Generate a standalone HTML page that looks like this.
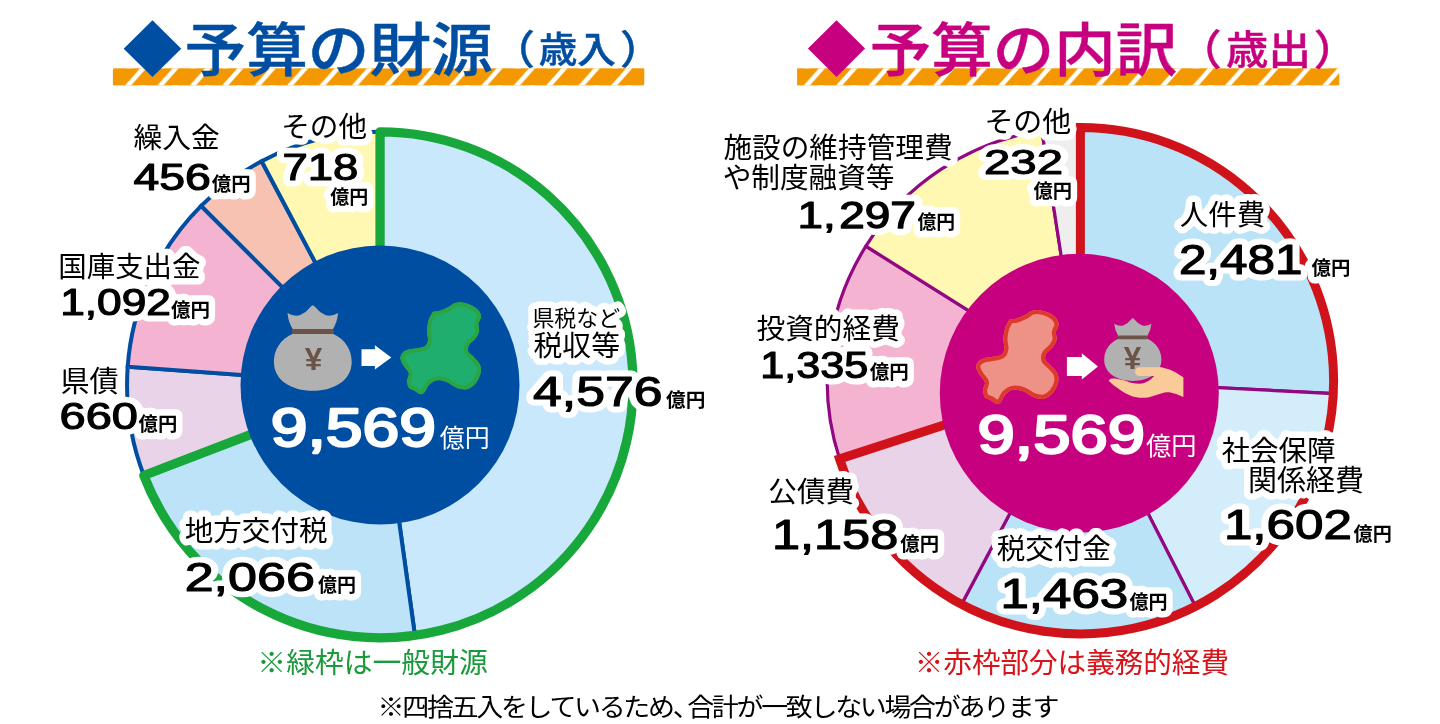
<!DOCTYPE html>
<html lang="ja"><head><meta charset="utf-8"><title>予算の財源・予算の内訳</title>
<style>
html,body{margin:0;padding:0;background:#fff}
body{width:1440px;height:724px;overflow:hidden}
svg{display:block}
text{font-family:"Liberation Sans","Noto Sans CJK JP",sans-serif}
text.n{font-family:"Liberation Sans",sans-serif;stroke:var(--ns);stroke-width:var(--nw);vector-effect:non-scaling-stroke;stroke-linejoin:round}
.halo{fill:#fff;stroke:#fff;stroke-width:13;stroke-linejoin:round;stroke-linecap:round;--ns:#fff;--nw:14.3}
.ink{fill:#000;--ns:#000;--nw:1.3}
.cw{fill:#fff;--ns:#fff;--nw:1.3}
.yen{--ns:none;--nw:0}
</style></head><body>
<svg width="1440" height="724" viewBox="0 0 1440 724">
<defs>
<pattern id="stripeL" patternUnits="userSpaceOnUse" width="32.4" height="17.1" patternTransform="translate(125,68.3)">
<rect width="32.4" height="17.1" fill="#f39800"/><path d="M0,17.1 L6.1,17.1 L21.3,0 L15.2,0Z" fill="#fff"/>
</pattern>
<pattern id="stripeR" patternUnits="userSpaceOnUse" width="32.4" height="17.1" patternTransform="translate(803.75,68.3)">
<rect width="32.4" height="17.1" fill="#f39800"/><path d="M0,17.1 L6.1,17.1 L21.3,0 L15.2,0Z" fill="#fff"/>
</pattern>
</defs>
<rect width="1440" height="724" fill="#fff"/>

<rect x="112.9" y="68.3" width="531.4" height="17.1" fill="url(#stripeL)"/>
<rect x="797.1" y="68.3" width="542.2" height="17.1" fill="url(#stripeR)"/>
<text transform="translate(122.92,71.10) scale(1.016,1)" font-size="58.05" font-weight="400" fill="#004ea2">◆</text>
<text transform="scale(1.07,1)" font-weight="500" fill="#004ea2" stroke="#004ea2" stroke-width="0.45" style="vector-effect:non-scaling-stroke"><tspan x="172.56" y="70.79" font-size="57.60">予算の財源</tspan><tspan x="460.07" y="64.17" font-size="39.93">（</tspan><tspan x="503.43" y="62.68" font-size="36.11">歳入</tspan><tspan x="579.36" y="64.04" font-size="39.59">）</tspan></text>
<text transform="translate(807.32,70.98) scale(1.005,1)" font-size="58.26" font-weight="400" fill="#c6007e">◆</text>
<text transform="scale(1.07,1)" font-weight="500" fill="#c6007e" stroke="#c6007e" stroke-width="0.45" style="vector-effect:non-scaling-stroke"><tspan x="812.85" y="70.65" font-size="57.49">予算の内訳</tspan><tspan x="1100.31" y="64.77" font-size="41.63">（</tspan><tspan x="1145.84" y="63.87" font-size="39.66">歳出</tspan><tspan x="1227.70" y="64.64" font-size="41.29">）</tspan></text>
<g stroke="#004ea2" stroke-width="4.0" stroke-linejoin="miter">
<path d="M380.05,384.80L380.05,131.80A253,253 0 0 1 414.95,635.38Z" fill="#c9e8fb"/>
<path d="M380.05,384.80L414.95,635.38A253,253 0 0 1 143.85,475.47Z" fill="#bce3f8"/>
<path d="M380.05,384.80L143.85,475.47A253,253 0 0 1 127.70,366.71Z" fill="#e8d3e8"/>
<path d="M380.05,384.80L127.70,366.71A253,253 0 0 1 201.15,205.90Z" fill="#f4b4d1"/>
<path d="M380.05,384.80L201.15,205.90A253,253 0 0 1 261.66,161.21Z" fill="#f8c2b3"/>
<path d="M380.05,384.80L261.66,161.21A253,253 0 0 1 380.05,131.80Z" fill="#fff8b3"/>
</g>
<path d="M380.05,384.80L380.05,131.80A253,253 0 1 1 143.85,475.47L380.05,384.80" fill="none" stroke="#17a73b" stroke-width="9.3" stroke-linejoin="round"/>
<circle cx="380" cy="385" r="139.5" fill="#004ea2"/>
<g stroke="#920883" stroke-width="3.2" stroke-linejoin="miter">
<path d="M1080.40,380.75L1080.40,127.55A253.2,253.2 0 0 1 1333.28,393.56Z" fill="#bbe3f8"/>
<path d="M1080.40,380.75L1333.28,393.56A253.2,253.2 0 0 1 1195.35,606.35Z" fill="#d4edfa"/>
<path d="M1080.40,380.75L1195.35,606.35A253.2,253.2 0 0 1 961.53,604.31Z" fill="#bbe3f8"/>
<path d="M1080.40,380.75L961.53,604.31A253.2,253.2 0 0 1 839.59,458.99Z" fill="#e8d3e8"/>
<path d="M1080.40,380.75L839.59,458.99A253.2,253.2 0 0 1 865.91,246.20Z" fill="#f4b4d1"/>
<path d="M1080.40,380.75L865.91,246.20A253.2,253.2 0 0 1 1041.88,130.50Z" fill="#fff8b3"/>
<path d="M1080.40,380.75L1041.88,130.50A253.2,253.2 0 0 1 1080.40,127.55Z" fill="#eeeeee"/>
</g>
<path d="M1080.40,380.75L1080.40,127.55A253.2,253.2 0 1 1 839.59,458.99L1080.40,380.75" fill="none" stroke="#d0121b" stroke-width="9.0" stroke-linejoin="miter"/>
<circle cx="1079.3" cy="393.3" r="139.5" fill="#c6007e"/>
<defs><path id="gifu" d="M43.48,16.67C44.93,16.01 47.58,16.38 50.00,15.65C52.42,14.93 55.43,13.60 57.97,12.32C60.51,11.04 62.80,8.77 65.22,7.97C67.63,7.17 69.81,7.17 72.46,7.54C75.12,7.90 78.50,8.86 81.16,10.14C83.82,11.43 86.76,13.29 88.41,15.22C90.05,17.15 91.01,19.44 91.01,21.74C91.01,24.03 88.72,26.57 88.41,28.99C88.09,31.40 89.61,33.82 89.13,36.23C88.65,38.65 87.20,41.18 85.51,43.48C83.82,45.77 80.19,47.83 78.99,50.00C77.78,52.17 77.42,54.47 78.26,56.52C79.11,58.57 82.13,60.14 84.06,62.32C85.99,64.49 88.77,66.91 89.86,69.57C90.94,72.22 91.30,75.12 90.58,78.26C89.86,81.40 87.80,85.75 85.51,88.41C83.21,91.06 79.95,93.48 76.81,94.20C73.67,94.93 70.05,93.96 66.67,92.75C63.29,91.55 59.90,88.16 56.52,86.96C53.14,85.75 49.28,85.02 46.38,85.51C43.48,85.99 41.06,87.92 39.13,89.86C37.20,91.79 36.23,95.53 34.78,97.10C33.33,98.67 32.13,99.52 30.43,99.28C28.74,99.03 26.57,96.74 24.64,95.65C22.71,94.57 20.10,94.44 18.84,92.75C17.58,91.06 17.10,87.92 17.10,85.51C17.10,83.09 19.40,80.68 18.84,78.26C18.29,75.85 15.17,73.43 13.77,71.01C12.37,68.60 10.68,65.94 10.43,63.77C10.19,61.59 10.92,59.54 12.32,57.97C13.72,56.40 16.06,55.19 18.84,54.35C21.62,53.50 26.21,53.50 28.99,52.90C31.76,52.29 34.01,52.05 35.51,50.72C37.00,49.40 37.73,47.34 37.97,44.93C38.21,42.51 36.88,39.37 36.96,36.23C37.03,33.09 37.68,28.86 38.41,26.09C39.13,23.31 40.46,21.14 41.30,19.57C42.15,18.00 42.03,17.32 43.48,16.67Z"/><clipPath id="gifuclip"><use href="#gifu"/></clipPath>
<g id="bag"><path d="M-25.3,7.7 Q-19,11.5 -13,9.9 Q-6.5,7 -2.3,1.6 Q0,-1.2 2.3,1.6 Q6.5,7 13,9.9 Q19,11.5 25.3,7.7 Q24.5,17 19.6,24.6 L-19.6,24.6 Q-24.5,17 -25.3,7.7ZM-19.6,28 C-33,34 -38.9,45 -38.9,56.5 C-38.9,75 -21,85.3 0,85.3 C21,85.3 38.9,75 38.9,56.5 C38.9,45 33,34 19.6,28Z" fill="#b2b1b1"/><rect x="-21" y="23.7" width="42" height="5" rx="2.5" fill="#6b5346"/></g></defs>
<use href="#bag" transform="translate(312.8,305.4)"/>
<text class="n yen" x="313.4" y="370.2" font-size="31.5" font-weight="700" fill="#6b5346" text-anchor="middle">¥</text>
<path d="M361.5,349.2 H374.9 V345.2 L391.3,357.4 L374.9,369.6 V365.9 H361.5Z" fill="#fff"/>
<g transform="translate(390,295)"><use href="#gifu" fill="#1fae6d"/><use href="#gifu" fill="none" stroke="#2aa544" stroke-width="8" clip-path="url(#gifuclip)"/></g>
<g transform="translate(965.65,302.50) scale(1.021)"><use href="#gifu" fill="#ee9288"/><use href="#gifu" fill="none" stroke="#dd3a2c" stroke-width="8" clip-path="url(#gifuclip)"/></g>
<path d="M1066.9,357.1 H1081.8 V353.3 L1098,366.4 L1081.8,379.5 V375.9 H1066.9Z" fill="#fff"/>
<use href="#bag" transform="translate(1132.8,318.2) scale(0.735)"/>
<text class="n yen" x="1132.6" y="369.4" font-size="31.5" font-weight="700" fill="#6b5346" text-anchor="middle">¥</text>
<path d="M1108.54,380.72C1109.16,380.35 1109.92,378.65 1112.27,378.51C1114.61,378.37 1119.29,379.15 1122.62,379.89C1125.96,380.63 1129.19,382.31 1132.29,382.93C1135.40,383.55 1138.39,384.08 1141.27,383.62C1144.15,383.16 1147.42,381.43 1149.56,380.17C1151.70,378.90 1153.36,376.71 1154.12,376.02L1139.48,376.02A4.35,4.35 0 0 1 1139.48,367.32L1161.30,367.32C1163.14,367.90 1168.66,369.09 1172.35,370.77C1176.03,372.45 1181.56,376.30 1183.40,377.40L1183.40,397.02C1182.02,396.46 1177.87,394.48 1175.11,393.70C1172.35,392.92 1169.82,392.14 1166.82,392.32C1163.83,392.50 1160.38,393.93 1157.15,394.81C1153.93,395.68 1150.94,397.15 1147.49,397.57C1144.03,397.98 1140.12,398.03 1136.44,397.29C1132.75,396.56 1128.84,394.90 1125.39,393.15C1121.93,391.40 1118.53,388.87 1115.72,386.80C1112.91,384.72 1109.73,381.73 1108.54,380.72Z" fill="#f9cb98"/>
<g class="cw">
<text class="n" style="--nw:2.6" transform="translate(270.73,445.92) scale(1.250,1)" font-size="52.82" font-weight="400">9,569</text>
<text x="439.80" y="447.17" font-size="24.96" font-weight="400">億円</text>
<text class="n" style="--nw:2.6" transform="translate(977.38,452.92) scale(1.255,1)" font-size="53.38" font-weight="400">9,569</text>
<text x="1146.10" y="455.12" font-size="25.22" font-weight="400">億円</text>
</g>
<use href="#labels" class="halo"/>
<g class="ink"><g id="labels"><text x="133.44" y="147.71" font-size="28.79" font-weight="400">繰入金</text>
<text class="n" transform="translate(133.42,189.64) scale(1.271,1)" font-size="36.48" font-weight="400">456</text>
<text x="211.81" y="190.61" font-size="19.37" font-weight="700">億円</text>
<text x="281.24" y="137.43" font-size="28.62" font-weight="400">その他</text>
<text class="n" transform="translate(282.48,180.43) scale(1.241,1)" font-size="36.62" font-weight="400">718</text>
<text x="330.31" y="204.13" font-size="19.01" font-weight="700">億円</text>
<text x="58.28" y="276.52" font-size="28.46" font-weight="400">国庫支出金</text>
<text class="n" transform="translate(60.13,314.64) scale(1.227,1)" font-size="36.06" font-weight="400">1,092</text>
<text x="171.11" y="316.75" font-size="19.48" font-weight="700">億円</text>
<text x="60.44" y="392.12" font-size="29.11" font-weight="400">県債</text>
<text class="n" transform="translate(59.61,428.64) scale(1.301,1)" font-size="36.06" font-weight="400">660</text>
<text x="138.61" y="430.74" font-size="19.32" font-weight="700">億円</text>
<text x="184.70" y="541.11" font-size="28.58" font-weight="400">地方交付税</text>
<text class="n" transform="translate(184.65,590.59) scale(1.283,1)" font-size="40.56" font-weight="400">2,066</text>
<text x="318.11" y="591.68" font-size="19.01" font-weight="700">億円</text>
<text x="532.40" y="325.75" font-size="21.96" font-weight="400">県税など</text>
<text x="533.54" y="355.77" font-size="28.82" font-weight="400">税収等</text>
<text class="n" transform="translate(533.12,406.17) scale(1.211,1)" font-size="42.68" font-weight="400">4,576</text>
<text x="666.10" y="406.91" font-size="19.64" font-weight="700">億円</text>
<text x="984.41" y="132.10" font-size="28.94" font-weight="400">その他</text>
<text class="n" transform="translate(983.98,173.75) scale(1.334,1)" font-size="35.49" font-weight="400">232</text>
<text x="1033.51" y="197.57" font-size="19.27" font-weight="700">億円</text>
<text x="723.40" y="158.39" font-size="28.66" font-weight="400">施設の維持管理費</text>
<text x="722.68" y="187.74" font-size="28.65" font-weight="400">や制度融資等</text>
<text class="n" transform="translate(797.51,227.84) scale(1.257,1)" font-size="36.48" font-weight="400">1,<tspan dx="2.78">297</tspan></text>
<text x="917.51" y="229.10" font-size="18.80" font-weight="700">億円</text>
<text x="756.54" y="338.69" font-size="28.67" font-weight="400">投資的経費</text>
<text class="n" transform="translate(760.31,378.03) scale(1.169,1)" font-size="36.90" font-weight="400">1,335</text>
<text x="869.70" y="379.27" font-size="19.53" font-weight="700">億円</text>
<text x="768.37" y="501.53" font-size="28.60" font-weight="400">公債費</text>
<text class="n" transform="translate(771.97,549.17) scale(1.186,1)" font-size="42.54" font-weight="400">1,158</text>
<text x="900.31" y="550.91" font-size="19.38" font-weight="700">億円</text>
<text x="996.64" y="559.35" font-size="28.56" font-weight="400">税交付金</text>
<text class="n" transform="translate(1000.42,608.37) scale(1.201,1)" font-size="42.54" font-weight="400">1,463</text>
<text x="1129.51" y="609.48" font-size="19.01" font-weight="700">億円</text>
<text x="1221.63" y="461.07" font-size="28.48" font-weight="400">社会保障</text>
<text x="1248.09" y="491.40" font-size="29.00" font-weight="400">関係経費</text>
<text class="n" transform="translate(1223.91,539.38) scale(1.219,1)" font-size="41.97" font-weight="400">1,602</text>
<text x="1353.61" y="540.52" font-size="19.11" font-weight="700">億円</text>
<text x="1179.70" y="225.10" font-size="28.49" font-weight="400">人件費</text>
<text class="n" transform="translate(1178.88,274.28) scale(1.170,1)" font-size="42.25" font-weight="400">2,481</text>
<text x="1311.51" y="275.18" font-size="19.43" font-weight="700">億円</text></g></g>
<text fill="#1a9a3c" x="257.37" y="673.30" font-size="28.81" font-weight="400">※緑枠は一般財源</text>
<text fill="#d7141a" x="914.75" y="672.73" font-size="28.57" font-weight="400">※赤枠部分は義務的経費</text>
<text transform="translate(377.6,716) scale(1.08,1)" font-size="25" font-weight="400" fill="#000" letter-spacing="-2.15">※四捨五入をしているため、<tspan dx="-9.4">合計が一致しない場合があります</tspan></text>
</svg></body></html>
